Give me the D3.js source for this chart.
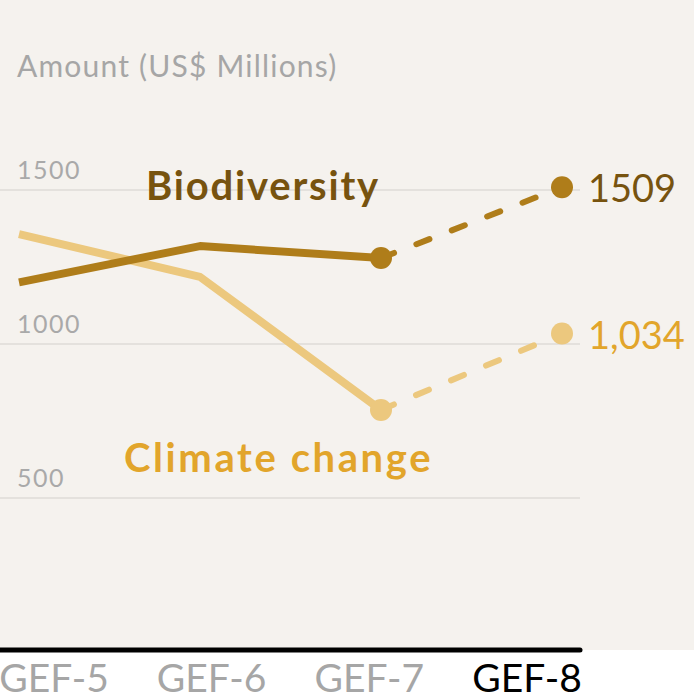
<!DOCTYPE html>
<html>
<head>
<meta charset="utf-8">
<title>GEF funding</title>
<script src="https://cdn.jsdelivr.net/npm/d3@7"></script>
<style>
  html, body { margin: 0; padding: 0; background: #ffffff; }
  svg { display: block; }
  text { font-family: Lato, "Open Sans", sans-serif; }
</style>
</head>
<body>
<div id="chart"></div>
<script>
// values
var periods = ["GEF-5", "GEF-6", "GEF-7", "GEF-8"];
var biodiversity = [1200, 1318, 1279, 1509];
var climateChange = [1357, 1218, 786, 1034];
var yTicks = [500, 1000, 1500];
var endLabels = ["1509", "1,034"];

var W = 694, H = 698;
var svg = d3.select("#chart").append("svg")
  .attr("width", W).attr("height", H);

// beige panel, white strip under the axis
svg.append("rect").attr("x", 0).attr("y", 0)
  .attr("width", W).attr("height", 650).attr("fill", "#f5f2ee");

var x = d3.scaleLinear().domain([0, 3]).range([19, 562]);
var y = d3.scaleLinear().domain([500, 1500]).range([498, 190]);

// gridlines + tick labels
svg.selectAll(".grid").data(yTicks).enter().append("line")
  .attr("x1", 0).attr("x2", 580)
  .attr("y1", function (d) { return y(d); })
  .attr("y2", function (d) { return y(d); })
  .attr("stroke", "#dedbd7").attr("stroke-width", 1.5);

svg.selectAll(".tick").data(yTicks).enter().append("text")
  .attr("x", 17)
  .attr("y", function (d) { return y(d) - 11; })
  .attr("fill", "#a9a9a9")
  .style("font-size", "25px")
  .style("letter-spacing", "1.5px")
  .text(function (d) { return d; });

svg.append("text")
  .attr("x", 17).attr("y", 77)
  .attr("fill", "#a6a6a6")
  .style("font-size", "30px")
  .style("letter-spacing", "1.2px")
  .text("Amount (US$ Millions)");

// series: solid for GEF-5..7, dashed to GEF-8
var series = [
  { name: "Climate change", values: climateChange, line: "#ecc87e", text: "#e2a52b", lx: 124, ly: 472, ls: 2.6 },
  { name: "Biodiversity", values: biodiversity, line: "#af7d1a", text: "#77530f", lx: 146, ly: 200, ls: 1.8 }
];

var line = d3.line()
  .x(function (d) { return x(d.i); })
  .y(function (d) { return y(d.v); });

series.forEach(function (s, k) {
  var pts = s.values.map(function (v, i) { return { i: i, v: v }; });
  var g = svg.append("g");

  g.append("path")
    .attr("d", line(pts.slice(0, 3)))
    .attr("fill", "none")
    .attr("stroke", s.line)
    .attr("stroke-width", 8)
    .attr("stroke-linejoin", "round");

  g.append("path")
    .attr("d", line(pts.slice(2)))
    .attr("fill", "none")
    .attr("stroke", s.line)
    .attr("stroke-width", 6)
    .attr("stroke-linecap", "round")
    .attr("stroke-dasharray", "14,24");

  g.selectAll("circle").data(pts.slice(2)).enter().append("circle")
    .attr("cx", function (d) { return x(d.i); })
    .attr("cy", function (d) { return y(d.v); })
    .attr("r", 11)
    .attr("fill", s.line);

  // series name
  svg.append("text")
    .attr("x", s.lx).attr("y", s.ly)
    .attr("fill", s.text)
    .style("font-size", "40px")
    .style("font-weight", "bold")
    .style("letter-spacing", s.ls + "px")
    .text(s.name);

  // end value
  svg.append("text")
    .attr("x", 588)
    .attr("y", y(s.values[3]) + 15)
    .attr("fill", s.text)
    .style("font-size", "38px")
    .text(endLabels[1 - k]);
});

// bottom axis
svg.append("line")
  .attr("x1", 0).attr("x2", 580)
  .attr("y1", 650).attr("y2", 650)
  .attr("stroke", "#000").attr("stroke-width", 5)
  .attr("stroke-linecap", "round");

var labelX = d3.scaleLinear().domain([0, 3]).range([54, 527]);
svg.selectAll(".period").data(periods).enter().append("text")
  .attr("x", function (d, i) { return labelX(i); })
  .attr("y", 692)
  .attr("text-anchor", "middle")
  .attr("fill", function (d, i) { return i === 3 ? "#000" : "#a6a6a6"; })
  .style("font-size", "39px")
  .text(function (d) { return d; });
</script>
</body>
</html>
